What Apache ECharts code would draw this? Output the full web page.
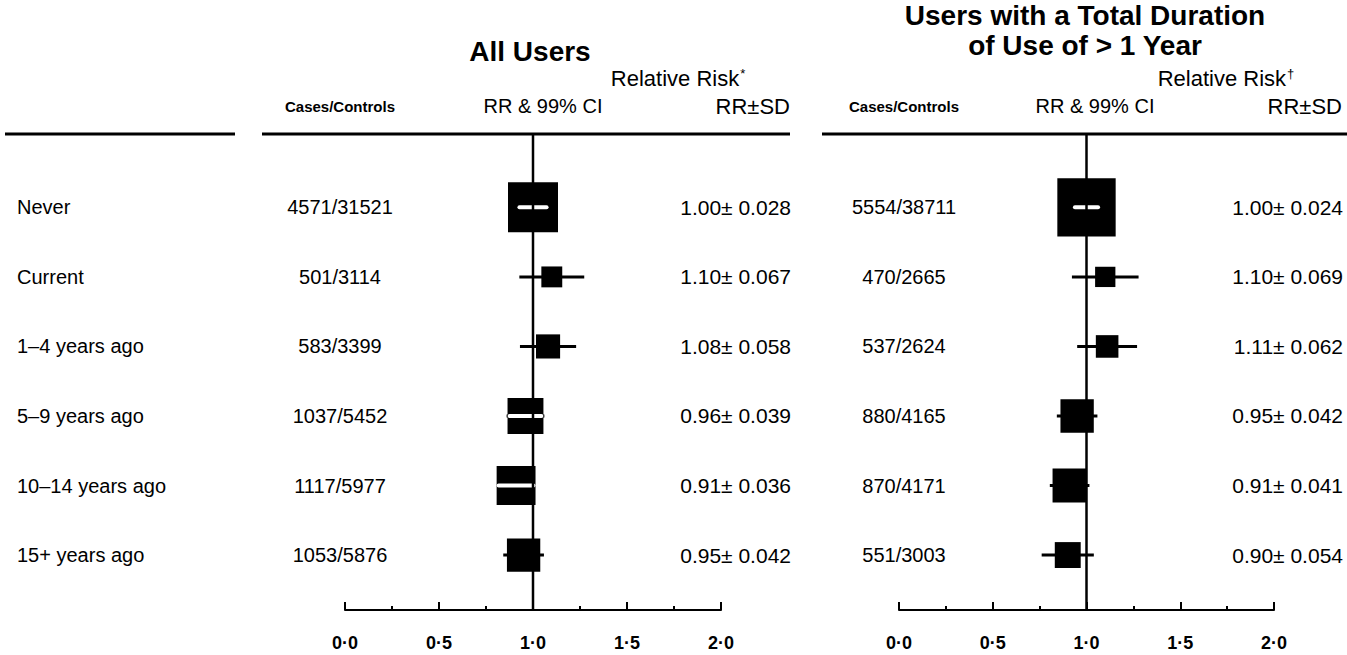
<!DOCTYPE html>
<html><head><meta charset="utf-8">
<script src="https://cdn.jsdelivr.net/npm/echarts@6/dist/echarts.min.js"></script>
<style>html,body{margin:0;padding:0;background:#fff}#c{width:1347px;height:655px}</style>
</head><body><div id="c"></div>
<script>
// ---- data ----
const rowLabels = ['Never', 'Current', '1\u20134 years ago', '5\u20139 years ago', '10\u201314 years ago', '15+ years ago'];
const allCases = ['4571/31521', '501/3114', '583/3399', '1037/5452', '1117/5977', '1053/5876'];
const allRR = [1.00, 1.10, 1.08, 0.96, 0.91, 0.95];
const allSD = [0.028, 0.067, 0.058, 0.039, 0.036, 0.042];
const longCases = ['5554/38711', '470/2665', '537/2624', '880/4165', '870/4171', '551/3003'];
const longRR = [1.00, 1.10, 1.11, 0.95, 0.91, 0.90];
const longSD = [0.024, 0.069, 0.062, 0.042, 0.041, 0.054];
const xTickValues = [0, 0.5, 1.0, 1.5, 2.0];
const refValue = 1.0;

// ---- styling / layout ----
const FONT = '"Liberation Sans", Arial, Helvetica, sans-serif';
const Z99 = 2.576;      // 99% CI multiplier
const BOX_K = 1.4;      // box side (px) = BOX_K / SD  (precision weighting)
const WHITE_MIN = 35;   // boxes at least this big show the CI inside in white
const HEAD_Y = 134;
const Y_MIN = -1.055, Y_MAX = 5.79;

const panels = [
  {grid: {left: 345, right: 626, top: HEAD_Y, bottom: 45}, casesX: 340, sdX: 791, labels: true,
   rr: allRR, sd: allSD, cases: allCases},
  {grid: {left: 899, right: 73, top: HEAD_Y, bottom: 45}, casesX: 904, sdX: 1343, labels: false,
   rr: longRR, sd: longSD, cases: longCases}
];

function txt(text, x, y, size, align, weight) {
  return {type: 'text', style: {text: text, x: x, y: y, align: align || 'center', verticalAlign: 'middle',
    font: (weight || 'normal') + ' ' + size + 'px ' + FONT, fill: '#000'}};
}

function renderRow(p) {
  return function (params, api) {
    const i = api.value(0), rr = api.value(1), sd = api.value(2);
    const c = api.coord([rr, i]);
    const lo = api.coord([rr - Z99 * sd, i])[0];
    const hi = api.coord([rr + Z99 * sd, i])[0];
    const s = BOX_K / sd;
    const children = [
      {type: 'line', shape: {x1: lo, y1: c[1], x2: hi, y2: c[1]}, style: {stroke: '#000', lineWidth: 3}},
      {type: 'rect', shape: {x: c[0] - s / 2, y: c[1] - s / 2, width: s, height: s}, style: {fill: '#000'}}
    ];
    if (s >= WHITE_MIN) {
      children.push({type: 'line', shape: {x1: Math.max(lo, c[0] - s / 2 + 2), y1: c[1],
        x2: Math.min(hi, c[0] + s / 2 - 2), y2: c[1]}, style: {stroke: '#fff', lineWidth: 4, lineCap: 'round'}});
    }
    children.push(txt(p.cases[i], p.casesX, c[1], 20));
    children.push(txt(rr.toFixed(2) + '\u00b1 ' + sd.toFixed(3), p.sdX, c[1], 21, 'right'));
    if (p.labels) children.push(txt(rowLabels[i], 17, c[1], 20, 'left'));
    return {type: 'group', children: children};
  };
}

const option = {
  animation: false,
  backgroundColor: '#fff',
  grid: panels.map(p => p.grid),
  xAxis: panels.map((p, k) => ({
    gridIndex: k, type: 'value', min: 0, max: 2, interval: 0.5,
    axisLine: {onZero: false, lineStyle: {color: '#000', width: 2}},
    axisTick: {inside: true, length: 8, lineStyle: {color: '#000', width: 2}},
    minorTick: {show: true, splitNumber: 2, length: 4, lineStyle: {color: '#000', width: 2}},
    splitLine: {show: false},
    axisLabel: {margin: 24, fontSize: 18, fontWeight: 'bold', color: '#000', fontFamily: FONT,
      customValues: xTickValues,
      formatter: v => v.toFixed(1).replace('.', '\u00b7')}
  })),
  yAxis: panels.map((p, k) => ({gridIndex: k, type: 'value', inverse: true, min: Y_MIN, max: Y_MAX, show: false})),
  series: [].concat(...panels.map((p, k) => [
    {type: 'custom', xAxisIndex: k, yAxisIndex: k, z: 2, clip: false,
     renderItem: renderRow(p), encode: {x: 1, y: 0},
     data: p.rr.map((v, i) => [i, v, p.sd[i]])},
    {type: 'line', xAxisIndex: k, yAxisIndex: k, z: 5, symbol: 'none', silent: true,
     lineStyle: {color: '#000', width: 2.5},
     data: [[refValue, Y_MIN], [refValue, Y_MAX]]}
  ])),
  graphic: [
    {type: 'line', shape: {x1: 5, y1: HEAD_Y, x2: 235, y2: HEAD_Y}, style: {stroke: '#000', lineWidth: 3}},
    {type: 'line', shape: {x1: 262, y1: HEAD_Y, x2: 790, y2: HEAD_Y}, style: {stroke: '#000', lineWidth: 3}},
    {type: 'line', shape: {x1: 822, y1: HEAD_Y, x2: 1347, y2: HEAD_Y}, style: {stroke: '#000', lineWidth: 3}},
    txt('All Users', 530, 51, 28, 'center', 'bold'),
    txt('Users with a Total Duration', 1085, 15, 28, 'center', 'bold'),
    txt('of Use of > 1 Year', 1085, 45, 28, 'center', 'bold'),
    {type: 'text', style: {text: '{t|Relative Risk}{s|*}', x: 678, y: 78, align: 'center', verticalAlign: 'middle',
      rich: {t: {fontSize: 22, fontFamily: FONT, fill: '#000'}, s: {fontSize: 13, fontFamily: FONT, fill: '#000', padding: [0, 0, 10, 1]}}}},
    {type: 'text', style: {text: '{t|Relative Risk}{s|\u2020}', x: 1226, y: 78, align: 'center', verticalAlign: 'middle',
      rich: {t: {fontSize: 22, fontFamily: FONT, fill: '#000'}, s: {fontSize: 13, fontFamily: FONT, fill: '#000', padding: [0, 0, 10, 1]}}}},
    txt('Cases/Controls', 340, 106, 15, 'center', 'bold'),
    txt('Cases/Controls', 904, 106, 15, 'center', 'bold'),
    txt('RR & 99% CI', 543, 106, 20),
    txt('RR & 99% CI', 1095, 106, 20),
    txt('RR\u00b1SD', 790, 106, 22, 'right'),
    txt('RR\u00b1SD', 1342, 106, 22, 'right')
  ]
};
const chart = echarts.init(document.getElementById('c'), null, {renderer: 'svg'});
chart.setOption(option);
</script></body></html>
